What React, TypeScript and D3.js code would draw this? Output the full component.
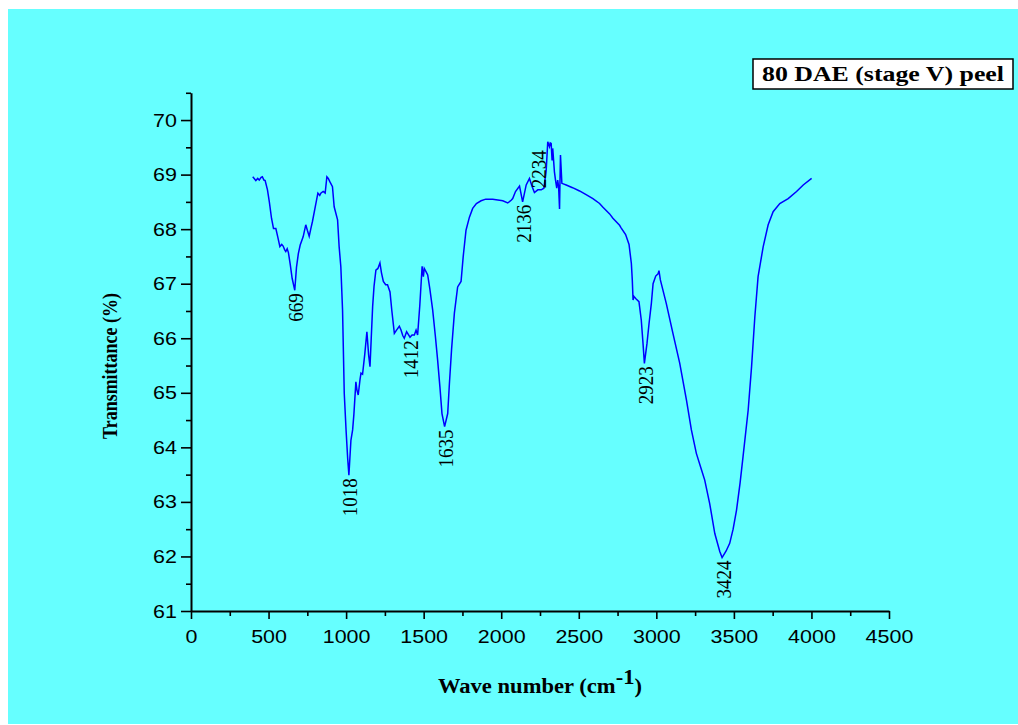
import { useEffect, useRef } from "react";
import * as d3 from "d3";

// FTIR spectrum
const waveNumbers = [
  398, 410, 418, 430, 440, 452, 460, 470, 478, 493, 505, 519, 532, 547, 560, 573, 585, 594, 604, 611,
  620, 628, 640, 652, 669, 680, 692, 704, 723, 740, 750, 762, 772, 783, 801, 818, 830, 837, 852, 865,
  876, 885, 895, 912, 923, 945, 955, 966, 977, 988, 1000, 1010, 1018, 1031, 1042, 1050, 1063, 1070, 1078, 1090,
  1096, 1106, 1120, 1134, 1145, 1154, 1162, 1171, 1180, 1192, 1205, 1218, 1228, 1240, 1255, 1267, 1283, 1295, 1311, 1325,
  1343, 1354, 1365, 1375, 1390, 1412, 1425, 1440, 1451, 1461, 1475, 1490, 1498, 1504, 1515, 1526, 1540, 1558, 1575, 1590,
  1605, 1618, 1635, 1655, 1666, 1680, 1698, 1719, 1741, 1755, 1773, 1795, 1816, 1840, 1870, 1900, 1945, 1989, 2010, 2042,
  2064, 2074, 2092, 2118, 2138, 2161, 2182, 2199, 2214, 2236, 2258, 2275, 2290, 2300, 2311, 2316, 2322, 2328, 2332, 2343,
  2350, 2358, 2364, 2370, 2376, 2379, 2382, 2391, 2419, 2460, 2505, 2550, 2591, 2634, 2656, 2699, 2720, 2763, 2774, 2802,
  2824, 2839, 2845, 2850, 2855, 2860, 2870, 2888, 2903, 2914, 2923, 2940, 2953, 2968, 2979, 2996, 3011, 3017, 3026, 3064,
  3107, 3151, 3194, 3226, 3258, 3290, 3312, 3344, 3377, 3409, 3424, 3450, 3473, 3495, 3517, 3540, 3559, 3592, 3614, 3635,
  3656, 3689, 3721, 3753, 3796, 3850, 3904, 3947, 4001,
];
const transmittance = [
  68.96, 68.92, 68.89, 68.93, 68.9, 68.95, 68.96, 68.9, 68.89, 68.72, 68.5, 68.2, 68.01, 68.01, 67.85, 67.68, 67.72, 67.69, 67.62, 67.59,
  67.64, 67.57, 67.35, 67.1, 66.88, 67.3, 67.55, 67.71, 67.86, 68.08, 67.98, 67.87, 68.0, 68.14, 68.41, 68.66, 68.62, 68.66, 68.69, 68.66,
  68.96, 68.93, 68.87, 68.78, 68.41, 68.17, 67.68, 67.31, 66.52, 64.99, 64.3, 63.8, 63.49, 64.13, 64.32, 64.6, 65.2, 65.05, 64.96, 65.25,
  65.36, 65.34, 65.7, 66.12, 65.7, 65.48, 66.0, 66.58, 66.95, 67.25, 67.28, 67.38, 67.2, 67.04, 66.98, 66.98, 66.85, 66.5, 66.09, 66.15,
  66.22, 66.15, 66.05, 66.0, 66.12, 66.02, 66.06, 66.06, 66.15, 66.06, 66.6, 67.32, 67.13, 67.28, 67.22, 67.16, 66.9, 66.52, 66.05, 65.6,
  65.1, 64.62, 64.38, 64.62, 65.17, 65.8, 66.46, 66.94, 67.04, 67.5, 67.98, 68.22, 68.38, 68.47, 68.52, 68.55, 68.55, 68.53, 68.52, 68.48,
  68.53, 68.56, 68.69, 68.79, 68.5, 68.81, 68.93, 68.78, 68.67, 68.72, 68.72, 68.75, 69.08, 69.6, 69.51, 69.58, 69.57, 69.26, 69.48, 69.05,
  68.9, 68.75, 68.9, 68.78, 68.37, 68.9, 69.36, 68.84, 68.81, 68.76, 68.7, 68.63, 68.56, 68.47, 68.4, 68.28, 68.2, 68.07, 68.02, 67.9,
  67.72, 67.37, 67.07, 66.7, 66.77, 66.75, 66.72, 66.67, 66.33, 65.91, 65.54, 65.91, 66.27, 66.64, 67.0, 67.14, 67.18, 67.24, 67.07, 66.64,
  66.09, 65.54, 64.87, 64.32, 63.89, 63.6, 63.4, 62.97, 62.42, 62.09, 61.98, 62.1, 62.24, 62.5, 62.85, 63.35, 63.83, 64.68, 65.48, 66.39,
  67.13, 67.68, 68.08, 68.32, 68.47, 68.56, 68.69, 68.81, 68.93,
];

const peakWaves = [669, 1018, 1412, 1635, 2136, 2234, 2923, 3424];
const peakLabelT = [66.88, 63.49, 66.02, 64.38, 68.5, 69.5, 65.54, 61.98];

const xTicks = [0, 500, 1000, 1500, 2000, 2500, 3000, 3500, 4000, 4500];
const xMinorTicks = [250, 750, 1250, 1750, 2250, 2750, 3250, 3750, 4250];
const yTicks = [61, 62, 63, 64, 65, 66, 67, 68, 69, 70];
const yMinorTicks = [61.5, 62.5, 63.5, 64.5, 65.5, 66.5, 67.5, 68.5, 69.5, 70.5];

const title = "80 DAE (stage V) peel";
const xTitle = "Wave number (cm";
const yTitle = "Transmittance (%)";

const W = 1018;
const H = 725;
const serif = "'Liberation Serif', 'Times New Roman', serif";
const sans = "'Liberation Sans', Arial, sans-serif";
const stretch = 1.13;

const x = d3.scaleLinear().domain([0, 4500]).range([191, 889]);
const y = d3.scaleLinear().domain([61, 70.5]).range([611, 611 - 9.5 * 54.55]);

export default function App() {
  const axesRef = useRef<SVGGElement>(null);

  useEffect(() => {
    const g = d3.select(axesRef.current);
    g.selectAll("*").remove();

    const xg = g.append("g").attr("transform", `translate(0,${y(61)})`);
    xg.call(d3.axisBottom(x).tickValues(xTicks).tickSize(8).tickSizeOuter(0).tickFormat(d3.format("d")));
    xg.append("g").call(d3.axisBottom(x).tickValues(xMinorTicks).tickSize(5).tickFormat(() => ""))
      .select(".domain").remove();

    const yg = g.append("g").attr("transform", `translate(${x(0)},0)`);
    yg.call(d3.axisLeft(y).tickValues(yTicks).tickSize(10).tickPadding(4).tickSizeOuter(0).tickFormat(d3.format("d")));
    yg.append("g").call(d3.axisLeft(y).tickValues(yMinorTicks).tickSize(5).tickFormat(() => ""))
      .select(".domain").remove();

    g.selectAll(".domain").attr("stroke", "#000").attr("stroke-width", 2);
    g.selectAll(".tick line").attr("stroke", "#000").attr("stroke-width", 1.6);
    g.selectAll(".tick text")
      .attr("font-family", sans)
      .attr("font-size", 19)
      .attr("fill", "#000")
      .style("transform-box", "fill-box");
    xg.selectAll(".tick text")
      .attr("y", 32)
      .attr("dy", 0)
      .style("transform-origin", "center")
      .style("transform", `scaleX(${stretch})`);
    yg.selectAll(".tick text")
      .style("transform-origin", "right center")
      .style("transform", `scaleX(${stretch})`);
  }, []);

  const line = d3.line<number>()
    .x((_, i) => x(waveNumbers[i]))
    .y((d) => y(d));

  return (
    <svg width={W} height={H} style={{ position: "absolute", left: 0, top: 0 }}>
      <rect x={0} y={0} width={W} height={H} fill="#fff" />
      <rect x={8} y={9} width={W - 8} height={H - 10} fill="#66ffff" />

      <g ref={axesRef} />

      <path d={line(transmittance) ?? ""} fill="none" stroke="#0000ff" strokeWidth={1.5} />

      {peakWaves.map((w, i) => (
        <g key={w} transform={`translate(${x(w) + 1},${y(peakLabelT[i]) + 3}) rotate(-90)`}>
          <text
            textAnchor="end"
            dominantBaseline="central"
            transform={`scale(1,${stretch})`}
            fontFamily={serif}
            fontSize={19}
            fill="#000"
          >
            {w}
          </text>
        </g>
      ))}

      <g transform={`translate(110,366) rotate(-90) scale(1,${stretch})`}>
        <text textAnchor="middle" dominantBaseline="central" fontFamily={serif} fontWeight="bold" fontSize={18}>
          {yTitle}
        </text>
      </g>

      <g transform={`translate(540,693) scale(${stretch},1)`}>
        <text textAnchor="middle" fontFamily={serif} fontWeight="bold" fontSize={20}>
          {xTitle}
          <tspan dy={-9}>-1</tspan>
          <tspan dy={9}>)</tspan>
        </text>
      </g>

      <rect x={753} y={59} width={260} height={30} fill="#fff" stroke="#000" strokeWidth={1.5} />
      <text
        x={883}
        y={81}
        textAnchor="middle"
        fontFamily={serif}
        fontWeight="bold"
        fontSize={21}
        textLength={242}
        lengthAdjust="spacingAndGlyphs"
      >
        {title}
      </text>
    </svg>
  );
}
